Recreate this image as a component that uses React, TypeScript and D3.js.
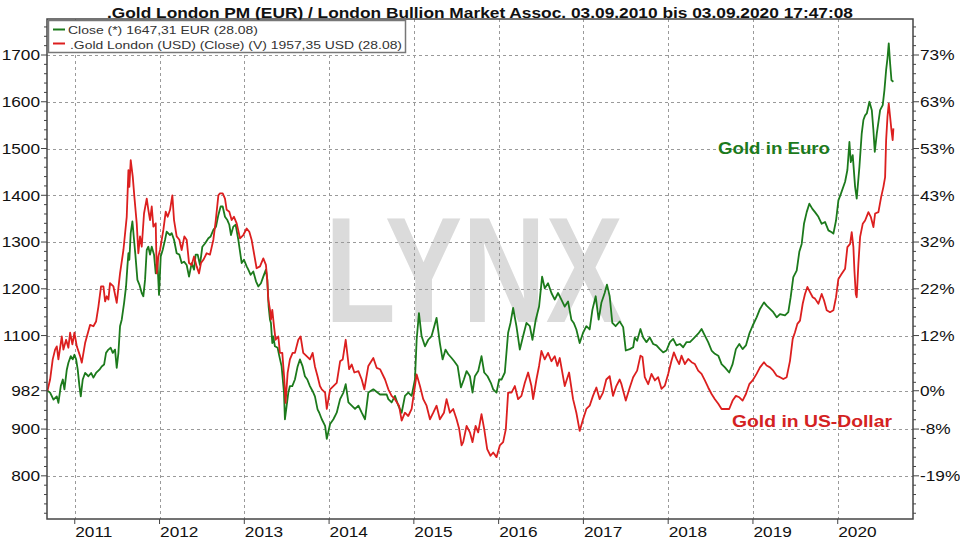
import React from 'react';
import * as d3 from 'd3';

const yearTicks = [2011, 2012, 2013, 2014, 2015, 2016, 2017, 2018, 2019, 2020];
const priceTicks = [800, 900, 982, 1100, 1200, 1300, 1400, 1500, 1600, 1700];
const pctLabels = ['-19%', '-8%', '0%', '12%', '22%', '32%', '43%', '53%', '63%', '73%'];

const titleText = '.Gold London PM (EUR) / London Bullion Market Assoc. 03.09.2010 bis 03.09.2020 17:47:08';
const legendItems = ['Close (*) 1647,31 EUR (28.08)', '.Gold London (USD) (Close) (V) 1957,35 USD (28.08)'];

// Gold in Euro (decimal year, EUR)
const eurYears = [
  2010.678, 2010.709, 2010.749, 2010.788, 2010.807, 2010.835, 2010.859, 2010.878, 2010.906, 2010.925, 2010.953, 2010.976, 2010.996,
  2011.016, 2011.035, 2011.055, 2011.071, 2011.094, 2011.122, 2011.161, 2011.193, 2011.22, 2011.251, 2011.291, 2011.318, 2011.346,
  2011.369, 2011.397, 2011.424, 2011.448, 2011.475, 2011.495, 2011.515, 2011.534, 2011.554, 2011.582, 2011.605, 2011.621, 2011.633,
  2011.644, 2011.66, 2011.68, 2011.699, 2011.715, 2011.739, 2011.762, 2011.79, 2011.809, 2011.829, 2011.849, 2011.868, 2011.888,
  2011.908, 2011.935, 2011.955, 2011.974, 2011.994, 2012.014, 2012.037, 2012.065, 2012.084, 2012.124, 2012.143, 2012.171, 2012.202,
  2012.234, 2012.261, 2012.289, 2012.32, 2012.348, 2012.379, 2012.407, 2012.426, 2012.45, 2012.477, 2012.505, 2012.536, 2012.576,
  2012.603, 2012.635, 2012.666, 2012.694, 2012.721, 2012.745, 2012.772, 2012.8, 2012.823, 2012.843, 2012.87, 2012.898, 2012.929,
  2012.969, 2012.996, 2013.028, 2013.047, 2013.075, 2013.106, 2013.138, 2013.165, 2013.196, 2013.224, 2013.255, 2013.271, 2013.287,
  2013.303, 2013.314, 2013.33, 2013.342, 2013.361, 2013.393, 2013.413, 2013.44, 2013.468, 2013.479, 2013.499, 2013.519, 2013.538,
  2013.566, 2013.597, 2013.629, 2013.656, 2013.688, 2013.715, 2013.743, 2013.774, 2013.806, 2013.833, 2013.864, 2013.884,
  2013.914, 2013.953, 2013.973, 2014.012, 2014.051, 2014.09, 2014.13, 2014.169, 2014.196, 2014.228, 2014.267, 2014.306, 2014.346,
  2014.385, 2014.424, 2014.463, 2014.522, 2014.601, 2014.679, 2014.699, 2014.738, 2014.777, 2014.817, 2014.856, 2014.895, 2014.934,
  2014.974, 2015.013, 2015.033, 2015.06, 2015.091, 2015.131, 2015.17, 2015.209, 2015.241, 2015.268, 2015.307, 2015.339, 2015.374,
  2015.406, 2015.445, 2015.476, 2015.516, 2015.555, 2015.59, 2015.622, 2015.661, 2015.692, 2015.72, 2015.759, 2015.798, 2015.83,
  2015.869, 2015.908, 2015.936, 2015.975, 2016.006, 2016.034, 2016.073, 2016.112, 2016.14, 2016.171, 2016.21, 2016.25, 2016.289,
  2016.328, 2016.368, 2016.399, 2016.438, 2016.477, 2016.513, 2016.544, 2016.583, 2016.623, 2016.662, 2016.701, 2016.74, 2016.78,
  2016.819, 2016.858, 2016.886, 2016.917, 2016.956, 2016.996, 2017.035, 2017.074, 2017.106, 2017.145, 2017.18, 2017.212, 2017.251,
  2017.278, 2017.31, 2017.341, 2017.38, 2017.428,
  2017.469, 2017.5, 2017.547, 2017.587, 2017.606, 2017.634, 2017.673, 2017.705, 2017.744, 2017.783, 2017.823, 2017.862, 2017.902,
  2017.941, 2017.98, 2018.02, 2018.059, 2018.098, 2018.138, 2018.177, 2018.217, 2018.256, 2018.295, 2018.354, 2018.394, 2018.433,
  2018.472, 2018.512, 2018.551, 2018.591, 2018.63, 2018.669, 2018.72, 2018.76, 2018.799, 2018.839, 2018.878, 2018.917, 2018.957,
  2018.996, 2019.043, 2019.083, 2019.13, 2019.161, 2019.201, 2019.24, 2019.28, 2019.319, 2019.378, 2019.417, 2019.445, 2019.476,
  2019.516, 2019.547, 2019.575, 2019.602, 2019.634, 2019.665, 2019.701, 2019.732, 2019.772, 2019.811, 2019.85, 2019.89, 2019.929,
  2019.949, 2019.98, 2020.008, 2020.039, 2020.087, 2020.114, 2020.138, 2020.154, 2020.177, 2020.205, 2020.224, 2020.256, 2020.283,
  2020.303, 2020.323, 2020.343, 2020.374, 2020.402, 2020.421, 2020.437, 2020.461, 2020.5, 2020.531, 2020.551, 2020.571, 2020.587,
  2020.602, 2020.618, 2020.634, 2020.657,
];
const eurValues = [
  982, 978, 963, 970, 956, 992, 1006, 985, 1027, 1042, 1056, 1049, 1059,
  1049, 1027, 992, 970, 1006, 1020, 1013, 1020, 1010, 1020, 1027, 1034, 1038,
  1063, 1070, 1074, 1063, 1070, 1031, 1063, 1120, 1134, 1170, 1205, 1248, 1276,
  1262, 1319, 1344, 1305, 1273, 1219, 1209, 1191, 1184, 1219, 1283, 1290, 1273,
  1290, 1273, 1233, 1262, 1187, 1269, 1283, 1305, 1322, 1315, 1319, 1305, 1276,
  1273, 1255, 1258, 1251, 1226, 1255, 1241, 1273, 1273, 1251, 1290, 1297, 1308,
  1312, 1326, 1333, 1358, 1376, 1376, 1354, 1347, 1337, 1315, 1333, 1337, 1305,
  1255, 1262, 1248, 1241, 1230, 1237, 1216, 1205, 1212, 1226, 1241, 1219, 1162,
  1134, 1127, 1084, 1098, 1077, 1074, 1056, 1034, 978, 921, 949, 978, 992,
  992, 1006, 1034, 1049, 1034, 1013, 1006, 992, 981, 970, 942, 935,
  921, 907, 879, 911, 921, 935, 964, 978, 996, 957, 950, 943, 950,
  935, 921, 978, 985, 974, 974, 964, 957, 971, 950, 935, 971, 978,
  971, 1006, 1091, 1148, 1099, 1077, 1091, 1099, 1120, 1138, 1084, 1049, 1070,
  1060, 1052, 1045, 1035, 989, 1006, 1024, 1013, 978, 1013, 1024, 1056, 1021,
  1013, 999, 985, 978, 1006, 1006, 1021, 1106, 1127, 1159, 1120, 1070, 1099,
  1127, 1120, 1091, 1134, 1162, 1226, 1201, 1212, 1191, 1177, 1191, 1177, 1162,
  1173, 1134, 1127, 1113, 1084, 1106, 1120, 1113, 1155, 1184, 1134, 1170, 1191,
  1209, 1184, 1127, 1120, 1130,
  1118, 1068, 1071, 1075, 1096, 1089, 1114, 1096, 1086, 1096, 1082, 1079, 1071,
  1064, 1068, 1086, 1093, 1079, 1082, 1075, 1086, 1086, 1093, 1104, 1114, 1100,
  1086, 1068, 1061, 1057, 1039, 1032, 1021, 1039, 1071, 1082, 1071, 1079, 1104,
  1121, 1139, 1157, 1171, 1164, 1157, 1150, 1139, 1146, 1143, 1150, 1182, 1225,
  1239, 1279, 1296, 1339, 1364, 1382, 1371, 1364, 1354, 1339, 1343, 1325, 1321,
  1318, 1346, 1389, 1404, 1429, 1454, 1514, 1471, 1486, 1418, 1393, 1461, 1532,
  1561, 1571, 1575, 1600, 1582, 1539, 1493, 1532, 1582, 1593, 1625, 1668, 1693,
  1725, 1682, 1646, 1643,
];

// Gold in US-Dollar, rebased to the EUR start (decimal year, rebased value)
const usdYears = [
  2010.678, 2010.709, 2010.74, 2010.768, 2010.788, 2010.807, 2010.847, 2010.866, 2010.898, 2010.925, 2010.945, 2010.972, 2010.996,
  2011.024, 2011.063, 2011.083, 2011.122, 2011.181, 2011.22, 2011.251, 2011.279, 2011.31, 2011.338, 2011.358, 2011.377, 2011.397,
  2011.416, 2011.456, 2011.495, 2011.534, 2011.574, 2011.613, 2011.633, 2011.644, 2011.66, 2011.684, 2011.703, 2011.731, 2011.75,
  2011.77, 2011.79, 2011.817, 2011.849, 2011.868, 2011.888, 2011.908, 2011.927, 2011.955, 2011.967, 2011.986, 2012.006, 2012.045,
  2012.073, 2012.096, 2012.124, 2012.151, 2012.171, 2012.202, 2012.234, 2012.261, 2012.293, 2012.32, 2012.348, 2012.379, 2012.407,
  2012.438, 2012.466, 2012.489, 2012.517, 2012.556, 2012.595, 2012.635, 2012.662, 2012.694, 2012.713, 2012.745, 2012.772, 2012.792,
  2012.823, 2012.851, 2012.878, 2012.91, 2012.949, 2012.988, 2013.028, 2013.059, 2013.086, 2013.114, 2013.145, 2013.185, 2013.224,
  2013.255, 2013.271, 2013.283, 2013.303, 2013.314, 2013.33, 2013.35, 2013.369, 2013.401, 2013.42, 2013.448, 2013.472, 2013.487,
  2013.511, 2013.538, 2013.57, 2013.597, 2013.637, 2013.664, 2013.695, 2013.735, 2013.774, 2013.806, 2013.833, 2013.864, 2013.892,
  2013.914, 2013.953, 2013.973, 2014.012, 2014.051, 2014.09, 2014.13, 2014.161, 2014.196, 2014.236, 2014.267, 2014.298, 2014.346,
  2014.385, 2014.416, 2014.463, 2014.522, 2014.561, 2014.601, 2014.66, 2014.699, 2014.738, 2014.777, 2014.825, 2014.856, 2014.895,
  2014.934, 2014.974, 2015.033, 2015.072, 2015.111, 2015.15, 2015.19, 2015.229, 2015.268, 2015.307, 2015.355, 2015.386, 2015.425,
  2015.464, 2015.504, 2015.535, 2015.563, 2015.582, 2015.622, 2015.661, 2015.692, 2015.728, 2015.759, 2015.798, 2015.83, 2015.865,
  2015.904, 2015.936, 2015.975, 2016.014, 2016.053, 2016.085, 2016.112, 2016.152, 2016.191, 2016.23, 2016.269, 2016.309, 2016.348,
  2016.387, 2016.407, 2016.446, 2016.477, 2016.505, 2016.544, 2016.583, 2016.623, 2016.662, 2016.693, 2016.721, 2016.78, 2016.831,
  2016.878, 2016.917, 2016.956, 2016.996, 2017.035, 2017.074, 2017.113, 2017.153, 2017.192, 2017.231, 2017.27, 2017.31, 2017.349,
  2017.388, 2017.428,
  2017.449, 2017.5, 2017.547, 2017.587, 2017.634, 2017.673, 2017.697, 2017.724, 2017.764, 2017.803, 2017.843, 2017.882, 2017.921,
  2017.961, 2018.0, 2018.039, 2018.067, 2018.098, 2018.13, 2018.157, 2018.197, 2018.236, 2018.276, 2018.315, 2018.354, 2018.394,
  2018.433, 2018.472, 2018.512, 2018.551, 2018.591, 2018.63, 2018.669, 2018.72, 2018.76, 2018.799, 2018.839, 2018.878, 2018.917,
  2018.957, 2018.996, 2019.043, 2019.083, 2019.13, 2019.161, 2019.201, 2019.24, 2019.28, 2019.319, 2019.358, 2019.398, 2019.437,
  2019.469, 2019.496, 2019.524, 2019.555, 2019.587, 2019.614, 2019.642, 2019.673, 2019.705, 2019.732, 2019.772, 2019.811, 2019.839,
  2019.87, 2019.909, 2019.949, 2019.98, 2020.008, 2020.047, 2020.087, 2020.114, 2020.146, 2020.165, 2020.185, 2020.197, 2020.213,
  2020.224, 2020.244, 2020.264, 2020.295, 2020.323, 2020.362, 2020.39, 2020.421, 2020.441, 2020.48, 2020.512, 2020.539, 2020.559,
  2020.571, 2020.587, 2020.602, 2020.618, 2020.634, 2020.648, 2020.657,
];
const usdValues = [
  982, 1006, 1049, 1070, 1077, 1049, 1098, 1070, 1091, 1074, 1106, 1081, 1106,
  1077, 1056, 1042, 1084, 1123, 1120, 1130, 1162, 1205, 1205, 1173, 1184, 1177,
  1212, 1205, 1170, 1233, 1283, 1354, 1454, 1418, 1475, 1440, 1397, 1340, 1276,
  1312, 1290, 1361, 1393, 1369, 1347, 1376, 1333, 1340, 1233, 1269, 1283, 1326,
  1365, 1354, 1369, 1400, 1347, 1312, 1305, 1283, 1312, 1305, 1255, 1251, 1269,
  1248, 1233, 1255, 1262, 1276, 1273, 1305, 1344, 1400, 1404, 1404, 1393, 1369,
  1365, 1347, 1354, 1340, 1308, 1315, 1329, 1322, 1305, 1276, 1244, 1248, 1265,
  1251, 1219, 1177, 1155, 1134, 1155, 1120, 1091, 1098, 1063, 1063, 1006, 956,
  1020, 1049, 1063, 1063, 1091, 1098, 1063, 1056, 1049, 1063, 1034, 1013, 992,
  985, 978, 943, 985, 992, 999, 1045, 1049, 1091, 1028, 1038, 1021, 1024,
  1006, 985, 1035, 1052, 1031, 1028, 1006, 985, 971, 964, 950, 918, 935,
  928, 943, 1017, 992, 964, 950, 921, 935, 950, 921, 935, 964, 935,
  943, 921, 900, 865, 872, 907, 893, 872, 907, 893, 932, 900, 857,
  843, 850, 840, 865, 872, 900, 978, 978, 992, 964, 971, 999, 1021,
  992, 964, 1006, 1035, 1067, 1049, 1063, 1045, 1056, 1035, 1052, 992, 1021,
  964, 935, 896, 921, 943, 950, 971, 989, 964, 978, 1006, 1013, 971,
  992, 1006,
  996, 961, 989, 1011, 1025, 1057, 1054, 1011, 996, 1018, 1004, 1011, 986,
  993, 1018, 1046, 1064, 1050, 1039, 1057, 1039, 1050, 1043, 1039, 1025, 1018,
  1004, 989, 975, 964, 954, 943, 943, 943, 961, 971, 968, 961, 975,
  996, 1004, 1018, 1032, 1043, 1036, 1032, 1025, 1014, 1011, 1007, 1011, 1046,
  1093, 1107, 1125, 1132, 1168, 1189, 1204, 1193, 1182, 1179, 1168, 1189, 1175,
  1154, 1150, 1154, 1182, 1221, 1232, 1243, 1289, 1296, 1321, 1289, 1239, 1189,
  1182, 1254, 1311, 1339, 1346, 1364, 1354, 1332, 1361, 1364, 1396, 1418, 1439,
  1518, 1568, 1596, 1568, 1539, 1518, 1543,
];

const L = 47, R = 913, T = 19, B = 519;
const SX = 1.15;
const FONT = "'Liberation Sans', Arial, Helvetica, sans-serif";
const GREEN = '#1c7a1c';
const RED = '#dc1f1f';

function SText(props: { x: number; y: number; anchor?: string; size?: number; fill?: string; children: React.ReactNode }) {
  const { x, y, anchor = 'start', size = 15, fill = '#111', children } = props;
  return (
    <text transform={`translate(${x},${y}) scale(${SX},1)`} textAnchor={anchor as any} fontSize={size} fontFamily={FONT} fill={fill}>
      {children}
    </text>
  );
}

export default function App() {
  const x = d3.scaleLinear().domain([2010.6725, 2020.888]).range([L, R]);
  const y = d3.scaleLinear().domain([707.7, 1777]).range([B, T]);

  const eurLine = d3.line<number>().x((_, i) => x(eurYears[i])).y((d) => y(d));
  const usdLine = d3.line<number>().x((_, i) => x(usdYears[i])).y((d) => y(d));

  const minor = d3.range(720, 1777, 20).filter((v) => priceTicks.every((t) => Math.abs(t - v) > 6));

  return (
    <svg width={960} height={540} style={{ position: 'absolute', left: 0, top: 0, background: '#fff' }}>
      <rect x={0} y={0} width={960} height={540} fill="#fff" />
      {/* watermark */}
      <text x={325} y={322} fontSize={150} fontWeight="bold" fontFamily={FONT} fill="#dbdbdb" textLength={298} lengthAdjust="spacingAndGlyphs">
        LYNX
      </text>
      {/* grid */}
      <g stroke="#9a9a9a" strokeWidth={1} strokeDasharray="3,3" fill="none">
        {priceTicks.map((t) => (
          <line key={'h' + t} x1={L} x2={R} y1={Math.round(y(t)) + 0.5} y2={Math.round(y(t)) + 0.5} />
        ))}
        {yearTicks.map((t) => (
          <line key={'v' + t} x1={Math.round(x(t)) + 0.5} x2={Math.round(x(t)) + 0.5} y1={T} y2={B} />
        ))}
      </g>
      {/* series */}
      <path d={eurLine(eurValues) || ''} fill="none" stroke={GREEN} strokeWidth={1.8} strokeLinejoin="round" />
      <path d={usdLine(usdValues) || ''} fill="none" stroke={RED} strokeWidth={1.8} strokeLinejoin="round" />
      {/* frame */}
      <rect x={L} y={T} width={R - L} height={B - T} fill="none" stroke="#444" strokeWidth={1.5} />
      {/* ticks */}
      <g stroke="#444" strokeWidth={1}>
        {priceTicks.map((t) => (
          <g key={'t' + t}>
            <line x1={L - 6} x2={L} y1={y(t)} y2={y(t)} />
            <line x1={R} x2={R + 6} y1={y(t)} y2={y(t)} />
          </g>
        ))}
        {minor.map((v) => (
          <g key={'m' + v}>
            <line x1={L - 3} x2={L} y1={y(v)} y2={y(v)} />
            <line x1={R} x2={R + 3} y1={y(v)} y2={y(v)} />
          </g>
        ))}
        {yearTicks.map((t) => (
          <line key={'yt' + t} x1={x(t)} x2={x(t)} y1={B} y2={B + 5} />
        ))}
      </g>
      {/* labels */}
      {priceTicks.map((t) => (
        <SText key={'l' + t} x={40} y={y(t) + 5.4} anchor="end">
          {String(t)}
        </SText>
      ))}
      {priceTicks.map((t, i) => (
        <SText key={'r' + t} x={920} y={y(t) + 5.4}>
          {pctLabels[i]}
        </SText>
      ))}
      {yearTicks.map((t) => (
        <SText key={'x' + t} x={x(t) + 0.5} y={536.5}>
          {String(t)}
        </SText>
      ))}
      {/* title */}
      <text x={107} y={17.5} fontSize={15} fontWeight="bold" fontFamily={FONT} fill="#111" textLength={746} lengthAdjust="spacingAndGlyphs">
        {titleText}
      </text>
      {/* legend */}
      <rect x={48.5} y={20.5} width={357} height={32} fill="#fff" stroke="#777" strokeWidth={1.5} />
      <line x1={53} x2={65} y1={29.5} y2={29.5} stroke={GREEN} strokeWidth={2} />
      <line x1={53} x2={65} y1={43.5} y2={43.5} stroke={RED} strokeWidth={2} />
      <text x={68} y={33.5} fontSize={11.6} fontFamily={FONT} fill="#333" textLength={190} lengthAdjust="spacingAndGlyphs">
        {legendItems[0]}
      </text>
      <text x={70} y={49} fontSize={11.6} fontFamily={FONT} fill="#333" textLength={332} lengthAdjust="spacingAndGlyphs">
        {legendItems[1]}
      </text>
      {/* annotations */}
      <text x={718} y={154} fontSize={17} fontWeight="bold" fontFamily={FONT} fill={GREEN} textLength={112} lengthAdjust="spacingAndGlyphs">
        Gold in Euro
      </text>
      <text x={732} y={427} fontSize={17} fontWeight="bold" fontFamily={FONT} fill="#d42222" textLength={160} lengthAdjust="spacingAndGlyphs">
        Gold in US-Dollar
      </text>
    </svg>
  );
}
